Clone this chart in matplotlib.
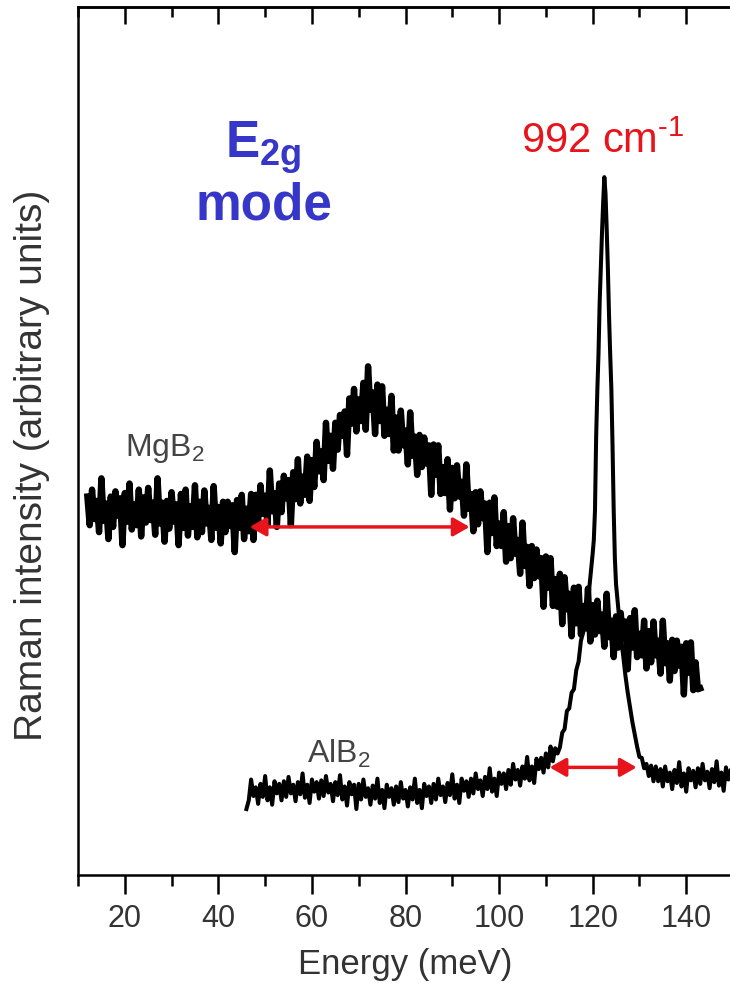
import numpy as np
import matplotlib
matplotlib.use('Agg')
import matplotlib.pyplot as plt
from matplotlib.ticker import MultipleLocator

plt.rcParams['font.family'] = ['Liberation Sans', 'DejaVu Sans']
plt.rcParams['mathtext.fontset'] = 'custom'
plt.rcParams['mathtext.rm'] = 'Liberation Sans'
plt.rcParams['mathtext.it'] = 'Liberation Sans:italic'
plt.rcParams['mathtext.bf'] = 'Liberation Sans:bold'

# MgB2 spectrum, every 0.5 meV from 12 to 143 meV
mgb2_energy = np.arange(12, 143.25, 0.5)
mgb2_intensity = [
    43.6, 40.3, 44.4, 41.0, 43.1, 39.5, 45.7, 40.8, 42.8, 38.7, 43.6, 40.1,
    44.2, 41.4, 43.4, 38.0, 44.0, 40.7, 45.1, 39.8, 42.7, 40.3, 44.4, 39.0,
    43.5, 40.6, 44.6, 40.9, 42.9, 39.2, 45.7, 40.5, 42.9, 38.4, 43.1, 39.9,
    44.1, 40.7, 42.7, 38.0, 43.9, 40.0, 44.4, 39.1, 42.5, 40.1, 44.9, 38.9,
    43.0, 39.5, 44.3, 40.5, 42.3, 38.6, 44.8, 40.0, 42.4, 38.2, 43.0, 39.5,
    43.0, 40.2, 42.6, 37.2, 43.2, 40.0, 43.8, 38.7, 42.2, 39.6, 43.9, 38.6,
    43.8, 40.7, 44.9, 41.6, 43.7, 40.3, 46.6, 41.9, 44.0, 40.1, 45.1, 41.8,
    46.0, 43.4, 45.5, 40.3, 46.4, 43.3, 47.9, 42.8, 45.9, 43.8, 48.2, 43.1,
    47.8, 44.7, 49.9, 46.5, 48.8, 45.5, 52.1, 47.7, 50.6, 46.8, 52.1, 49.0,
    53.0, 50.6, 53.4, 48.4, 54.9, 52.0, 56.0, 51.1, 54.8, 52.3, 56.7, 51.3,
    58.6, 53.6, 55.6, 50.8, 56.5, 52.3, 56.3, 50.6, 53.6, 50.8, 55.2, 48.9,
    52.7, 48.9, 53.5, 49.5, 51.2, 47.3, 53.3, 48.3, 50.5, 46.1, 50.7, 47.0,
    50.4, 47.4, 49.5, 43.8, 49.6, 46.1, 49.5, 43.9, 47.0, 44.0, 47.9, 42.1,
    46.9, 43.4, 47.2, 43.6, 45.3, 41.4, 47.3, 42.2, 43.9, 39.6, 44.1, 40.4,
    44.2, 41.1, 42.8, 37.2, 42.9, 39.4, 43.5, 37.9, 40.5, 37.9, 41.8, 36.1,
    40.2, 36.5, 41.1, 37.0, 38.6, 34.7, 40.6, 35.6, 37.8, 33.3, 37.9, 34.2,
    37.5, 34.4, 36.5, 30.9, 36.7, 33.1, 36.5, 31.0, 34.1, 30.9, 34.7, 28.9,
    34.3, 30.6, 32.4, 27.5, 33.1, 29.0, 33.2, 27.7, 31.0, 28.4, 33.0, 26.9,
    31.1, 27.7, 31.6, 28.1, 30.0, 26.3, 32.4, 27.4, 29.3, 25.1, 29.8, 26.2,
    30.2, 27.3, 29.2, 23.7, 29.6, 26.2, 30.5, 25.1, 27.8, 25.3, 29.3, 23.8,
    28.1, 24.5, 29.2, 25.3, 27.0, 23.2, 29.3, 24.4, 26.7, 22.4, 27.1, 23.5,
    27.0, 24.1, 26.3, 20.8, 26.7, 23.3, 26.8, 21.3, 24.5, 21.4, 21.5,
]

# AlB2 spectrum, sampled finer across the 992 cm-1 line
alb2_energy = np.concatenate([
    np.arange(46, 113, 0.5),
    np.arange(113, 120, 0.5),
    np.arange(120, 125, 0.25),
    np.arange(125, 130.5, 0.5),
    np.arange(130.5, 152.25, 0.5),
])
alb2_intensity = [
    7.6, 8.6, 11.0, 9.1, 10.1, 8.2, 10.5, 9.0, 11.4, 8.6, 10.1, 8.1,
    10.8, 9.4, 10.5, 8.6, 10.8, 9.0, 11.3, 9.4, 10.4, 8.5, 10.7, 9.3,
    11.7, 8.9, 10.4, 8.3, 11.0, 9.6, 10.7, 8.8, 10.9, 9.1, 11.4, 9.5,
    10.5, 8.5, 10.7, 9.2, 11.5, 8.7, 10.2, 8.0, 10.7, 9.3, 10.4, 7.6,
    10.5, 8.7, 11.0, 9.0, 10.0, 8.1, 10.3, 8.8, 11.1, 8.3, 9.8, 7.7,
    10.4, 9.0, 10.0, 8.1, 10.2, 8.4, 10.7, 8.8, 9.8, 7.9, 10.1, 8.7,
    11.1, 8.3, 9.8, 7.7, 10.5, 9.1, 10.2, 8.3, 10.5, 8.7, 11.1, 9.2,
    10.2, 8.4, 10.6, 9.2, 11.6, 8.8, 10.4, 8.3, 11.1, 9.7, 10.8, 9.0,
    11.1, 9.4, 11.7, 9.9, 10.9, 9.1, 11.3, 9.9, 12.3, 9.6, 11.1, 9.1,
    11.8, 10.5, 11.7, 9.9, 12.1, 10.4, 12.8, 11.0, 12.1, 10.3, 12.5, 11.1,
    13.6, 10.9, 12.5, 10.6, 13.4, 12.2, 13.5, 11.8, 14.0, 12.4, 14.8, 13.1,
    14.6, 14.0,
    14.7, 16.4, 16.8, 18.9, 19.2, 21.0, 21.4, 23.6, 24.6, 27.0,
    28.0, 30.4, 31.5, 34.2,
    37.0, 38.6, 42.0, 50.5, 55.8, 60.0, 66.0, 70.0, 74.0, 77.5,
    80.4, 78.5, 74.5, 70.0, 64.5, 60.0, 56.0, 49.5, 42.0, 36.5,
    33.5, 30.6, 27.5, 25.4, 23.0, 21.0, 19.3, 17.6, 16.2, 14.8, 13.6,
    13.5, 12.3, 12.8, 11.4, 12.6, 10.8, 12.5, 10.8, 12.2, 10.2, 12.5, 10.8,
    11.8, 9.9, 12.1, 10.6, 13.0, 10.2, 11.7, 9.6, 12.3, 10.9, 12.0, 10.1,
    12.3, 10.5, 12.8, 10.9, 11.9, 10.0, 12.2, 10.7, 13.1, 10.3, 11.8, 9.7,
    12.4, 11.0, 12.1, 10.2, 12.3, 10.5, 12.8, 10.9,
]

# linewidth markers: (left energy, right energy, level)
mgb2_width = (46.7, 93.7, 40.1)
alb2_width = (110.8, 129.4, 12.4)

major_ticks = [20, 40, 60, 80, 100, 120, 140]

red = '#e8141c'
blue = '#3636c8'
grey = '#333333'

fig = plt.figure(figsize=(7.3, 9.91), dpi=100)
ax = fig.add_axes([78 / 730, 1 - 875 / 991, 655 / 730, 868 / 991])

ax.plot(mgb2_energy, mgb2_intensity, color='black', lw=4.6)
ax.plot(alb2_energy, alb2_intensity, color='black', lw=2.9)

for left, right, level in (mgb2_width, alb2_width):
    ax.annotate('', xy=(left, level), xytext=(right, level),
                arrowprops=dict(arrowstyle='<|-|>,head_length=0.7,head_width=0.4',
                                mutation_scale=14, color=red, lw=2.5,
                                shrinkA=0, shrinkB=0))

ax.text(20.0, 48.3, 'MgB$_2$', fontsize=23, color='#444444',
        ha='left', va='baseline')
ax.text(58.9, 12.9, 'AlB$_2$', fontsize=23, color='#444444',
        ha='left', va='baseline')
ax.text(49.6, 82.7, r'E$_{\mathbf{2g}}$', fontsize=37, fontweight='bold',
        color=blue, ha='center', va='baseline')
ax.text(49.7, 75.5, 'mode', fontsize=37, fontweight='bold',
        color=blue, ha='center', va='baseline')
ax.text(122.1, 83.2, r'992 cm$^{\text{-1}}$', fontsize=30, color=red,
        ha='center', va='baseline')

ax.set_xlim(10, 150)
ax.set_ylim(0, 100)
ax.set_xticks(major_ticks)
ax.xaxis.set_minor_locator(MultipleLocator(10))
ax.tick_params(axis='x', which='major', direction='out', length=14, width=1.8,
               pad=7, labelsize=22, labelcolor=grey, top=False)
ax.tick_params(axis='x', which='minor', direction='out', length=8, width=1.8,
               top=False)
ax.tick_params(axis='y', left=False, labelleft=False)

# inward ticks along the top edge
top = ax.secondary_xaxis('top')
top.set_xticks(major_ticks)
top.xaxis.set_minor_locator(MultipleLocator(10))
top.tick_params(axis='x', which='major', direction='in', length=12, width=1.8,
                labeltop=False)
top.tick_params(axis='x', which='minor', direction='in', length=7, width=1.8)

for spine in list(ax.spines.values()) + list(top.spines.values()):
    spine.set_linewidth(1.8)

ax.set_xlabel('Energy (meV)', fontsize=25, color=grey, labelpad=10)
ax.set_ylabel('Raman intensity (arbitrary units)', fontsize=28, color=grey)
ax.yaxis.set_label_coords(-0.043, 0.472)

fig.savefig('out.png', dpi=100)
